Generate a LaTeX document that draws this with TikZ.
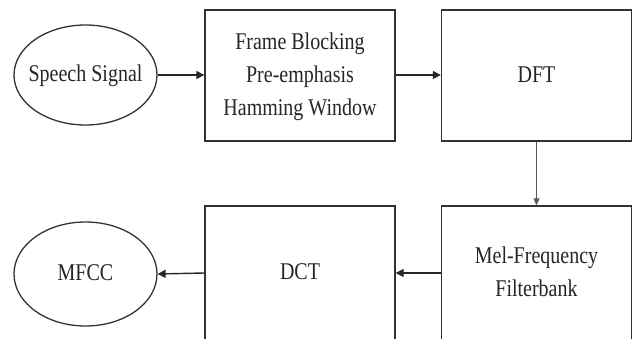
\documentclass[tikz,border=0pt]{standalone}
\usepackage{fontspec}
\usepackage{graphicx}
\setmainfont{Liberation Serif}
\usetikzlibrary{shapes.geometric,arrows.meta}
\newcommand\stretchtext[1]{\scalebox{1}[1.2]{\renewcommand\arraystretch{1}\begin{tabular}{@{}c@{}}#1\end{tabular}}}
\tikzset{
  procbox/.style={draw=black!80, line width=1.4pt, rectangle, inner sep=0pt,
    minimum width=190pt, minimum height=131pt, text=black!85,
    font=\fontsize{20}{27.5}\selectfont},
  termnode/.style={draw=black!80, line width=1.3pt, ellipse, inner sep=0pt,
    minimum width=143pt, minimum height=100pt},
  termtext/.style={text=black!85, font=\fontsize{20}{27.5}\selectfont, inner sep=0pt},
  flow/.style={draw=black!85, line width=1.4pt, -{Triangle[length=8pt,width=8pt]}},
  thinflow/.style={draw=black!65, line width=1pt, -{Triangle[length=7pt,width=6pt]}}
}
\begin{document}
\begin{tikzpicture}[x=1pt,y=1pt]
\useasboundingbox (0,0) rectangle (638,338);
\clip (0,0) rectangle (638,338);
\fill[white] (0,0) rectangle (638,338);
\node[termnode, label={[termtext]center:\stretchtext{Speech Signal}}] (speech) at (85.5,263) {};
\node[procbox] (frame) at (300,262.5) {\stretchtext{Frame Blocking\\Pre-emphasis\\Hamming Window}};
\node[procbox] (dft) at (536.5,262.5) {\stretchtext{DFT}};
\node[procbox, minimum height=134pt] (mel) at (536.5,65) {\stretchtext{Mel-Frequency\\Filterbank}};
\node[procbox, minimum height=134pt] (dct) at (300,65) {\stretchtext{DCT}};
\node[termnode, minimum height=104pt, label={[termtext]center:\stretchtext{MFCC}}] (mfcc) at (85.5,64) {};
\draw[flow] (speech.east) -- (frame.west |- speech.east);
\draw[flow] (frame.east |- speech.east) -- (dft.west |- speech.east);
\draw[thinflow] (dft.south) -- (mel.north);
\draw[flow] (mel.west) -- (dct.east);
\draw[flow] (dct.west) -- (mfcc.east);
\end{tikzpicture}
\end{document}
